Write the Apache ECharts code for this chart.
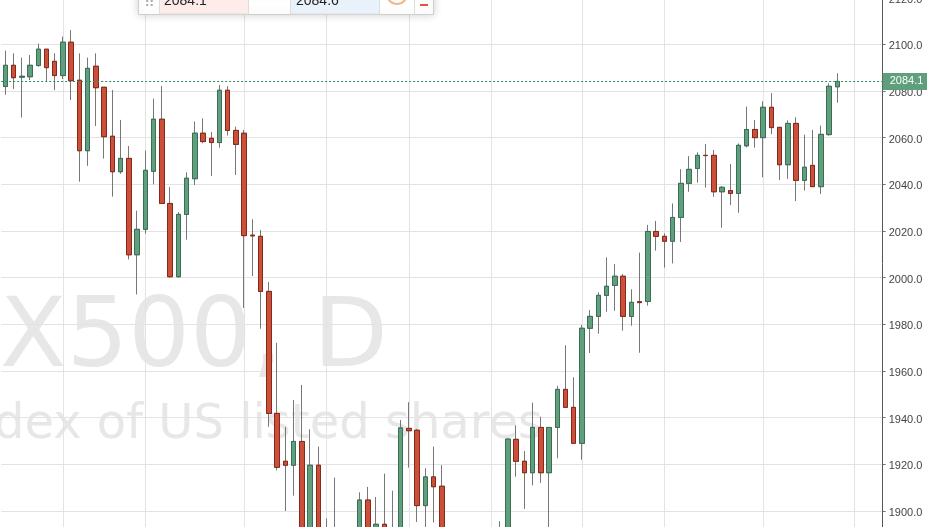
<!DOCTYPE html>
<html>
<head>
<meta charset="utf-8">
<style>html,body{margin:0;padding:0;background:#fff;overflow:hidden}#chart{width:927px;height:527px}</style>
<script src="https://cdn.jsdelivr.net/npm/echarts@6/dist/echarts.min.js"></script>
</head>
<body>
<div id="chart"></div>
<script>
// daily candles, candles under the bottom edge are rough guesses
const opens = [2081.9,2091,2085.9,2086.1,2090.9,2097.9,2092.7,2086.6,2100.9,2084.6,
  2054.4,2090.6,2081.6,2060.6,2045.4,2051.1,2009.8,2020.7,2045.6,2067.9,
  2031.8,2000.4,2027.1,2042.4,2061.9,2059.7,2057.9,2080.3,2063.1,2061.9,
  2018.2,2017.7,1994.1,1941.8,1921.3,1919.6,1929.8,1886,1919.6,1889,
  1889,1888,1885,1888,1904.7,1888,1894.3,1885,1888,1935.4,
  1934.6,1902.3,1914.6,1910.6,1888,1886,1887,1885,1888,1885,
  1886,1889,1930.7,1921.3,1916.4,1935.8,1916.4,1935.8,1952.1,1944.4,
  1929,1978.3,1983.4,1992.4,1996.7,2000.6,1983.4,1989.7,1989.8,2019.8,
  2017.7,2015.6,2025.8,2040.4,2046.8,2052.4,2052.4,2036.8,2037.3,2036.1,
  2056.5,2063.5,2060,2073,2064.4,2048.4,2066.1,2041.7,2048.1,2039,
  2061.3,2081.8]
const closes = [2091,2085.7,2086.3,2091,2097.9,2090,2086.6,2100.9,2084.4,2054.4,
  2089.7,2081.4,2060.4,2045.4,2051.1,2009.8,2020.7,2046,2067.9,2031.8,
  2000.4,2027.1,2042.6,2061.9,2058.3,2057.9,2080.3,2063.1,2057.1,2018,
  2017.9,1994.1,1941.8,1918.7,1919.6,1929.8,1888,1919.6,1888,1885,
  1884,1885,1888,1904.7,1889,1894.3,1887,1889,1935.6,1934.4,
  1902.3,1914.6,1910.4,1889,1885,1889,1884,1888,1885,1888,
  1889,1930.8,1921.3,1916.4,1935.8,1916.4,1935.8,1952.1,1944.4,1929,
  1978.3,1983.4,1992.4,1996.3,2000.6,1983.4,1989.4,1989.3,2019.8,2017.7,
  2015.6,2025.8,2040.4,2046.4,2052.4,2052.3,2036.8,2038.7,2036.1,2056.7,
  2063.5,2060,2073,2064.3,2048.4,2066.1,2041.7,2047.3,2039,2061.4,
  2082,2084.1]
const lows = [2078.4,2080.9,2068.6,2084.7,2090.4,2084,2080.4,2085.1,2076.1,2041.1,
  2047.9,2065,2051,2034.7,2044.5,2007.8,1992.8,2018.8,2040,2031.8,
  2000,2000,2016.3,2039.7,2057.6,2043.6,2055.7,2060.9,2044,1987,
  2000.7,1978.1,1936.1,1917.4,1900,1906.6,1884,1883,1884,1882,
  1882,1883,1883,1885,1886,1885,1885,1883,1885,1918.6,
  1895.3,1892,1895.1,1885,1883,1883,1882,1883,1883,1883,
  1884,1885,1914.7,1900.9,1911,1912,1892,1922.6,1944.4,1929,
  1922,1967.7,1976,1985.4,1985.8,1977.3,1979.4,1967.8,1988,2011.6,
  2004.3,2006.1,2015.3,2036.8,2040.7,2038.6,2034.6,2021.4,2031.1,2027.8,
  2055.8,2055.7,2043,2061.5,2041.8,2042.3,2032.8,2037.3,2039,2035.8,
  2060.8,2075]
const highs = [2097.3,2096.1,2094.3,2095.4,2100.3,2097.9,2096.1,2103.3,2106.1,2096.1,
  2094.3,2096.1,2081.6,2080.4,2067.6,2056.4,2028.7,2054.4,2076.7,2082.1,
  2038.8,2028.1,2045.1,2066.9,2068.3,2062.4,2082.6,2082.1,2064.7,2063.3,
  2025,2020.4,1998.1,1972.1,1936,1947.6,1954,1935,1927.6,1896.8,
  1914.3,1890,1890,1908,1910.3,1906,1916,1908.7,1939,1946.6,
  1935.2,1918.3,1927.6,1919.6,1890,1890,1889,1890,1890,1890,
  1895.6,1931,1936.7,1925.7,1946.4,1940.4,1936,1953.6,1971,1957.3,
  1979.7,1986.1,1993.7,2008.7,2005.8,2001.6,1995,2010.7,2022.6,2024.3,
  2019,2031.8,2046.5,2052.1,2053.7,2057.3,2054.7,2039.3,2048.7,2057.5,
  2073.3,2067.6,2075.6,2079.1,2064.4,2067.4,2068.7,2061.3,2063.3,2065.1,
  2083.3,2087.6]
const slots = 107
const categories = Array.from({ length: slots }, (_, i) => `d${i}`)
const verticalLines = [7, 17, 29, 39, 49, 59, 70, 80, 92, 103]
const lastPrice = 2084.1
const bidText = '2084.1'
const askText = '2084.6'
const watermarkTitle = 'SPX500, D'
const watermarkSub = 'Index of US listed shares'

const green = '#5f9f7d'
const greenEdge = '#3a6f56'
const red = '#cb4f39'
const redEdge = '#85291b'

const wickData = opens.map((o, i) => [o, closes[i], lows[i], highs[i]])
const bodyData = opens.map((o, i) => [o, closes[i], Math.min(o, closes[i]), Math.max(o, closes[i])])

const chart = echarts.init(document.getElementById('chart'))

const option = {
  animation: false,
  backgroundColor: '#fff',
  textStyle: { fontFamily: 'Liberation Sans' },
  grid: { left: 1.18, top: -49.03, width: 881.5, height: 606.67, outerBoundsMode: 'none' },
  xAxis: {
    type: 'category',
    data: categories,
    axisLine: { show: false },
    axisTick: { show: false },
    axisLabel: { show: false },
    splitLine: {
      show: true,
      alignWithLabel: true,
      interval: (i) => verticalLines.includes(i),
      lineStyle: { color: '#e3e3e3', width: 1 }
    }
  },
  yAxis: {
    type: 'value',
    position: 'right',
    min: 1880,
    max: 2140,
    interval: 20,
    axisLine: { show: true, lineStyle: { color: '#555', width: 1 } },
    axisTick: { show: true, length: 3, lineStyle: { color: '#777' } },
    axisLabel: {
      margin: 6,
      formatter: (v) => `{tick|${v.toFixed(1)}}`,
      rich: {
        tick: { fontSize: 11, color: '#444', fontFamily: 'Liberation Sans', padding: [4, 0, 0, 0] }
      }
    },
    splitLine: { show: true, lineStyle: { color: '#e3e3e3', width: 1 } }
  },
  series: [
    {
      // grey wicks underneath
      type: 'candlestick',
      data: wickData,
      barWidth: 5,
      itemStyle: { color: '#777', color0: '#777', borderColor: '#777', borderColor0: '#777', borderWidth: 1 }
    },
    {
      // bodies on top, no wick of their own
      type: 'candlestick',
      data: bodyData,
      barWidth: 5,
      itemStyle: { color: green, color0: red, borderColor: greenEdge, borderColor0: redEdge, borderWidth: 1 },
      markLine: {
        silent: true,
        symbol: 'none',
        data: [{ yAxis: lastPrice }],
        lineStyle: { color: '#2e8b63', type: [2, 2], width: 1 },
        label: {
          position: 'end',
          distance: 0,
          formatter: () => lastPrice.toFixed(1),
          color: '#fff',
          fontSize: 11,
          fontFamily: 'Liberation Sans',
          backgroundColor: '#5f9f7d',
          padding: [3, 8, 3, 7]
        }
      }
    }
  ],
  graphic: [
    { type: 'text', z: -1, x: 388, y: 389, style: { text: watermarkTitle, fill: '#e7e7e7', font: '97px "DejaVu Sans"', textAlign: 'right', textVerticalAlign: 'bottom' } },
    { type: 'text', z: -1, x: 543, y: 449.5, style: { text: watermarkSub, fill: '#e7e7e7', font: '48px "DejaVu Sans"', textAlign: 'right', textVerticalAlign: 'bottom' } },
    // order widget cut off by the top edge
    { type: 'rect', z: 100, shape: { x: 138.5, y: -5, width: 295, height: 19.5 }, style: { fill: '#fff', stroke: '#cfcfcf', lineWidth: 1, shadowBlur: 8, shadowColor: 'rgba(0,0,0,0.18)' } },
    { type: 'rect', z: 101, shape: { x: 159.5, y: -1, width: 89, height: 15 }, style: { fill: '#fdecea', stroke: '#ddd', lineWidth: 1 } },
    { type: 'rect', z: 101, shape: { x: 290.5, y: -1, width: 89, height: 15 }, style: { fill: '#e9f1fb', stroke: '#ddd', lineWidth: 1 } },
    { type: 'text', z: 102, x: 164, y: 8, style: { text: bidText, fill: '#222', font: '14px "Liberation Sans"', textVerticalAlign: 'bottom' } },
    { type: 'text', z: 102, x: 296, y: 8, style: { text: askText, fill: '#222', font: '14px "Liberation Sans"', textVerticalAlign: 'bottom' } },
    { type: 'text', z: 102, x: 145, y: 9, style: { text: '::', fill: '#aaa', font: 'bold 11px "DejaVu Sans"', textVerticalAlign: 'bottom' } },
    { type: 'circle', z: 102, shape: { cx: 397, cy: -6, r: 10 }, style: { fill: '#fff', stroke: '#eeb98a', lineWidth: 2 } },
    { type: 'line', z: 102, shape: { x1: 414.5, y1: 0, x2: 414.5, y2: 14 }, style: { stroke: '#ddd', lineWidth: 1 } },
    { type: 'line', z: 102, shape: { x1: 420, y1: 5, x2: 428, y2: 5 }, style: { stroke: '#e0533d', lineWidth: 2 } }
  ]
}
chart.setOption(option)
window.addEventListener('resize', () => chart.resize())
</script>
</body>
</html>
